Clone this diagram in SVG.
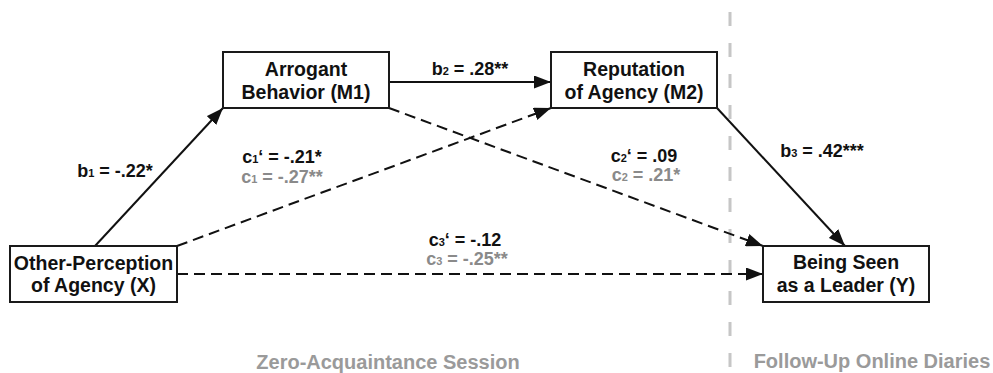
<svg xmlns="http://www.w3.org/2000/svg" width="993" height="373" viewBox="0 0 993 373">
<style>
.box{fill:#fff;stroke:#1a1a1a;stroke-width:2}
.nt{font-family:"Liberation Sans",Arial,sans-serif;font-weight:bold;font-size:19.5px;fill:#111;text-anchor:middle}
.lb{font-family:"Liberation Sans",Arial,sans-serif;font-weight:bold;font-size:18px;fill:#111;text-anchor:middle}
.gr{fill:#8a8a8a}
.sub{font-size:11px}
.sess{font-family:"Liberation Sans",Arial,sans-serif;font-weight:bold;font-size:20px;fill:#9a9a9a;text-anchor:middle}
.solid{stroke:#111;stroke-width:2;fill:none}
.dash{stroke:#111;stroke-width:2;fill:none;stroke-dasharray:11 6}
</style>
<defs>
<marker id="ah" markerUnits="userSpaceOnUse" markerWidth="17" markerHeight="13" refX="17" refY="6.5" orient="auto">
<path d="M0,0 L17,6.5 L0,13 z" fill="#111"/>
</marker>
</defs>
<line x1="730" y1="12" x2="730" y2="373" stroke="#c6c6c6" stroke-width="3" stroke-dasharray="14 17"/>
<g id="connectors">
<line class="solid" x1="95" y1="246" x2="223" y2="108" marker-end="url(#ah)"/>
<line class="solid" x1="389" y1="82" x2="551" y2="82" marker-end="url(#ah)"/>
<line class="dash" x1="177" y1="246" x2="551" y2="108" marker-end="url(#ah)"/>
<line class="dash" x1="389" y1="108" x2="763" y2="246" marker-end="url(#ah)"/>
<line class="dash" x1="177" y1="274" x2="763" y2="274" marker-end="url(#ah)"/>
<line class="solid" x1="717" y1="108" x2="845" y2="246" marker-end="url(#ah)"/>
</g>
<g id="labels">
<text class="lb" x="115" y="177">b<tspan class="sub">1</tspan> = -.22*</text>
<text class="lb" x="470" y="75">b<tspan class="sub">2</tspan> = .28**</text>
<text class="lb" x="822" y="157">b<tspan class="sub">3</tspan> = .42***</text>
<text class="lb" x="282" y="163">c<tspan class="sub">1</tspan>‘ = -.21*</text>
<text class="lb gr" x="282" y="183">c<tspan class="sub">1</tspan> = -.27**</text>
<text class="lb" x="644" y="162">c<tspan class="sub">2</tspan>‘ = .09</text>
<text class="lb gr" x="646" y="181">c<tspan class="sub">2</tspan> = .21*</text>
<text class="lb" x="465" y="246">c<tspan class="sub">3</tspan>‘ = -.12</text>
<text class="lb gr" x="467" y="265">c<tspan class="sub">3</tspan> = -.25**</text>
</g>
<g id="nodeX">
<rect class="box" x="10" y="246" width="167" height="56"/>
<text class="nt" x="93.5" y="270">Other-Perception</text>
<text class="nt" x="93.5" y="292">of Agency (X)</text>
</g>
<g id="nodeM1">
<rect class="box" x="223" y="52" width="166" height="56"/>
<text class="nt" x="306" y="76">Arrogant</text>
<text class="nt" x="306" y="99">Behavior (M1)</text>
</g>
<g id="nodeM2">
<rect class="box" x="551" y="52" width="166" height="56"/>
<text class="nt" x="634" y="76">Reputation</text>
<text class="nt" x="634" y="99">of Agency (M2)</text>
</g>
<g id="nodeY">
<rect class="box" x="763" y="246" width="166" height="56"/>
<text class="nt" x="846" y="269">Being Seen</text>
<text class="nt" x="846" y="292">as a Leader (Y)</text>
</g>
<text class="sess" x="388" y="369">Zero-Acquaintance Session</text>
<text class="sess" x="872" y="368">Follow-Up Online Diaries</text>
</svg>
